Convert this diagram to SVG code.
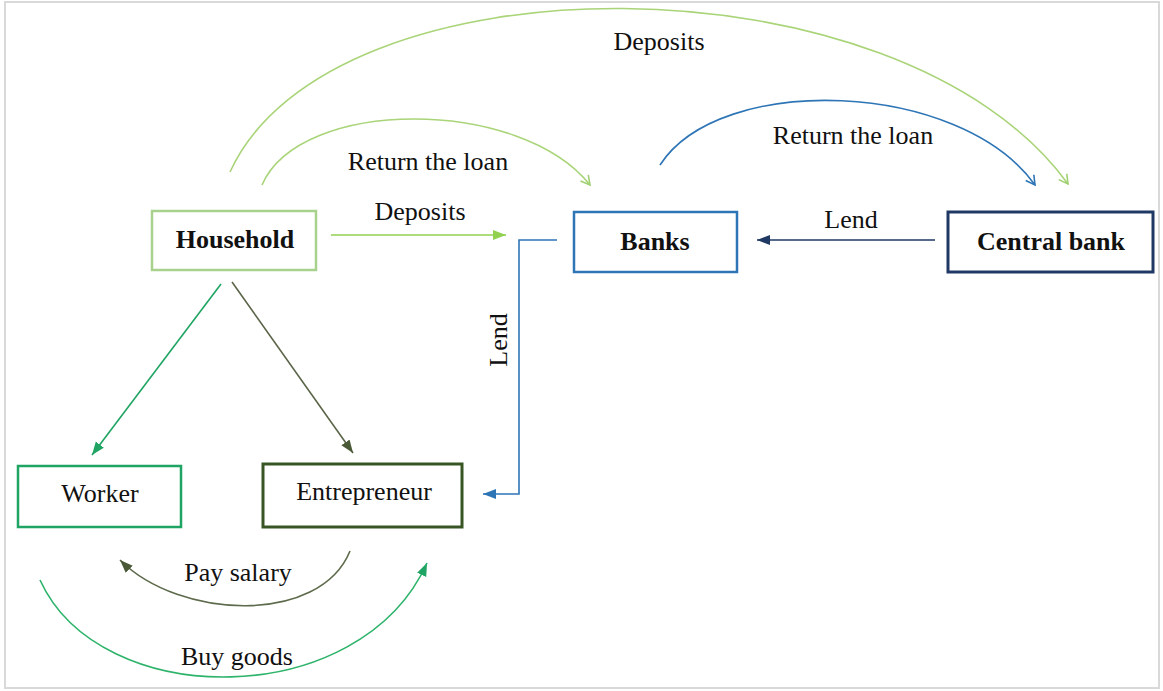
<svg xmlns="http://www.w3.org/2000/svg" width="1163" height="691" viewBox="0 0 1163 691">
<style>
.t{font-family:"Liberation Serif","Times New Roman",serif;font-size:26px;fill:#111;text-anchor:middle}
.b{font-weight:bold}
.box{fill:#fff}
.c{fill:none;stroke-width:1.6}
</style>
<defs>
<marker id="aLG" markerWidth="12" markerHeight="12" refX="10" refY="6" orient="auto" markerUnits="userSpaceOnUse"><path d="M1,1 L10,6 L1,11" fill="none" stroke="#9fd071" stroke-width="1.6"/></marker>
<marker id="aBlO" markerWidth="12" markerHeight="12" refX="10" refY="6" orient="auto" markerUnits="userSpaceOnUse"><path d="M1,1 L10,6 L1,11" fill="none" stroke="#2e75b6" stroke-width="1.6"/></marker>
<marker id="fLG" markerWidth="14" markerHeight="12" refX="13" refY="6" orient="auto" markerUnits="userSpaceOnUse"><path d="M0,1 L13,6 L0,11 z" fill="#92d050"/></marker>
<marker id="fNv" markerWidth="14" markerHeight="12" refX="13" refY="6" orient="auto" markerUnits="userSpaceOnUse"><path d="M0,1 L13,6 L0,11 z" fill="#203864"/></marker>
<marker id="fBl" markerWidth="14" markerHeight="12" refX="13" refY="6" orient="auto" markerUnits="userSpaceOnUse"><path d="M0,1 L13,6 L0,11 z" fill="#2e75b6"/></marker>
<marker id="fGr" markerWidth="14" markerHeight="12" refX="13" refY="6" orient="auto" markerUnits="userSpaceOnUse"><path d="M0,1 L13,6 L0,11 z" fill="#1fa463"/></marker>
<marker id="fOl" markerWidth="14" markerHeight="12" refX="13" refY="6" orient="auto" markerUnits="userSpaceOnUse"><path d="M0,1 L13,6 L0,11 z" fill="#4a5a36"/></marker>
</defs>
<rect x="0" y="0" width="1163" height="691" fill="#fff"/>
<rect x="5" y="2" width="1154" height="686" fill="none" stroke="#d9d9d9" stroke-width="2"/>

<g id="connectors">
<path class="c" d="M230,172 C330,-48 900,-48 1068,184" stroke="#a9d478" marker-end="url(#aLG)"/>
<path class="c" d="M262,185 C300,97 520,97 590,185" stroke="#a9d478" marker-end="url(#aLG)"/>
<path class="c" d="M660,165 C720,72 960,80 1035,185" stroke="#2e75b6" marker-end="url(#aBlO)"/>
<line class="c" x1="331" y1="235" x2="506" y2="235" stroke="#92d050" marker-end="url(#fLG)"/>
<line class="c" x1="935" y1="240" x2="757" y2="240" stroke="#203864" marker-end="url(#fNv)"/>
<polyline class="c" points="557,240 519,240 519,494 483,494" stroke="#2e75b6" marker-end="url(#fBl)"/>
<line class="c" x1="221" y1="284" x2="92" y2="455" stroke="#1fa463" marker-end="url(#fGr)"/>
<line class="c" x1="232" y1="282" x2="353" y2="453" stroke="#5a6448" marker-end="url(#fOl)"/>
<path class="c" d="M350,551 C320,625 180,620 120,560" stroke="#5e6a4c" marker-end="url(#fOl)"/>
<path class="c" d="M40,580 C100,712 360,712 427,563" stroke="#2db36a" marker-end="url(#fGr)"/>
<text class="t" x="659" y="50">Deposits</text>
<text class="t" x="428" y="170">Return the loan</text>
<text class="t" x="853" y="144">Return the loan</text>
<text class="t" x="420" y="220">Deposits</text>
<text class="t" x="851" y="228">Lend</text>
<text class="t" transform="translate(507,340) rotate(-90)">Lend</text>
<text class="t" x="238" y="581">Pay salary</text>
<text class="t" x="237" y="665">Buy goods</text>
</g>

<g id="household"><rect class="box" x="152" y="211" width="164" height="59" stroke="#a9d18e" stroke-width="2.5"/><text class="t b" x="235" y="248">Household</text></g>
<g id="banks"><rect class="box" x="574" y="212" width="163" height="60" stroke="#2e75b6" stroke-width="2.5"/><text class="t b" x="655" y="250">Banks</text></g>
<g id="central-bank"><rect class="box" x="948" y="212" width="205" height="60" stroke="#203864" stroke-width="3"/><text class="t b" x="1051" y="250">Central bank</text></g>
<g id="worker"><rect class="box" x="18" y="466" width="163" height="61" stroke="#1fa463" stroke-width="2.5"/><text class="t" x="100" y="502">Worker</text></g>
<g id="entrepreneur"><rect class="box" x="263" y="464" width="199" height="63" stroke="#375623" stroke-width="3"/><text class="t" x="364" y="500">Entrepreneur</text></g>
</svg>
